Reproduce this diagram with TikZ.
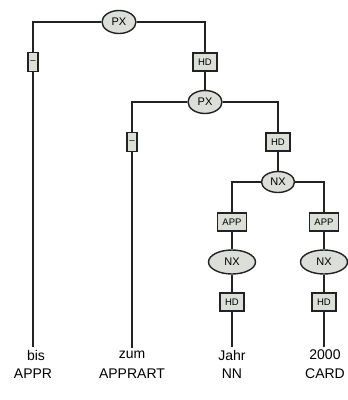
\documentclass[tikz,border=0pt]{standalone}
\usepackage{fontspec}
\setmainfont{Liberation Sans}
\usepackage{xcolor}
\usepackage{tikz}
\usetikzlibrary{shapes.geometric,positioning}
\definecolor{nodegray}{HTML}{DCDEDA}
\definecolor{linedark}{HTML}{222222}
\tikzset{
  edge/.style={line width=1.4pt,linedark},
  catnode/.style={ellipse,draw=linedark,line width=1.4pt,fill=nodegray,inner sep=0pt,
    minimum width=34pt,minimum height=23pt,font=\fontsize{11}{12}\selectfont},
  funcbox/.style={rectangle,draw=linedark,line width=1.4pt,fill=nodegray,inner xsep=5pt,
    inner ysep=0pt,minimum height=18pt,font=\fontsize{9.5}{11}\selectfont},
  dashbox/.style={funcbox,inner xsep=0pt,minimum width=10pt,minimum height=19pt},
  wordnode/.style={inner sep=3pt,font=\fontsize{14}{16}\selectfont},
  posnode/.style={inner sep=2pt,font=\fontsize{14}{16}\selectfont}
}
\begin{document}
\begin{tikzpicture}[x=1pt,y=-1pt]
  \useasboundingbox (0,0) rectangle (348,400);
  % phrase and function nodes
  \node[catnode] (px1) at (119,22) {PX};
  \node[dashbox] (d1) at (33,62) {--};
  \node[funcbox] (hd1) at (205,62) {HD};
  \node[catnode] (px2) at (205,102) {PX};
  \node[dashbox] (d2) at (132,142) {--};
  \node[funcbox] (hd2) at (278,142) {HD};
  \node[catnode,minimum width=33pt,minimum height=21pt] (nx1) at (278,182) {NX};
  \node[funcbox] (app1) at (232,222) {APP};
  \node[funcbox] (app2) at (324,222) {APP};
  \node[catnode,minimum width=47pt,minimum height=24pt] (nx2) at (232,262) {NX};
  \node[catnode,minimum width=47pt,minimum height=24pt] (nx3) at (324,262) {NX};
  \node[funcbox] (hd3) at (232,302) {HD};
  \node[funcbox] (hd4) at (324,302) {HD};
  % tokens and tags
  \node[wordnode] (w1) at (36,355) {bis};
  \node[wordnode] (w2) at (132,355) {zum};
  \node[wordnode] (w3) at (232,355) {Jahr};
  \node[wordnode] (w4) at (325,355) {2000};
  \node[posnode] (t1) at (33,374) {APPR};
  \node[posnode] (t2) at (132,374) {APPRART};
  \node[posnode] (t3) at (232,374) {NN};
  \node[posnode] (t4) at (325,374) {CARD};
  % tree edges
  \draw[edge] (px1) -| (d1);
  \draw[edge] (px1) -| (hd1);
  \draw[edge] (hd1) -- (px2);
  \draw[edge] (px2) -| (d2);
  \draw[edge] (px2) -| (hd2);
  \draw[edge] (hd2) -- (nx1);
  \draw[edge] (nx1) -| (app1);
  \draw[edge] (nx1) -| (app2);
  \draw[edge] (app1) -- (nx2);
  \draw[edge] (app2) -- (nx3);
  \draw[edge] (nx2) -- (hd3);
  \draw[edge] (nx3) -- (hd4);
  \draw[edge] (d1) -- (d1 |- w1.north);
  \draw[edge] (d2) -- (d2 |- w2.north);
  \draw[edge] (hd3) -- (hd3 |- w3.north);
  \draw[edge] (hd4) -- (hd4 |- w4.north);
\end{tikzpicture}
\end{document}
